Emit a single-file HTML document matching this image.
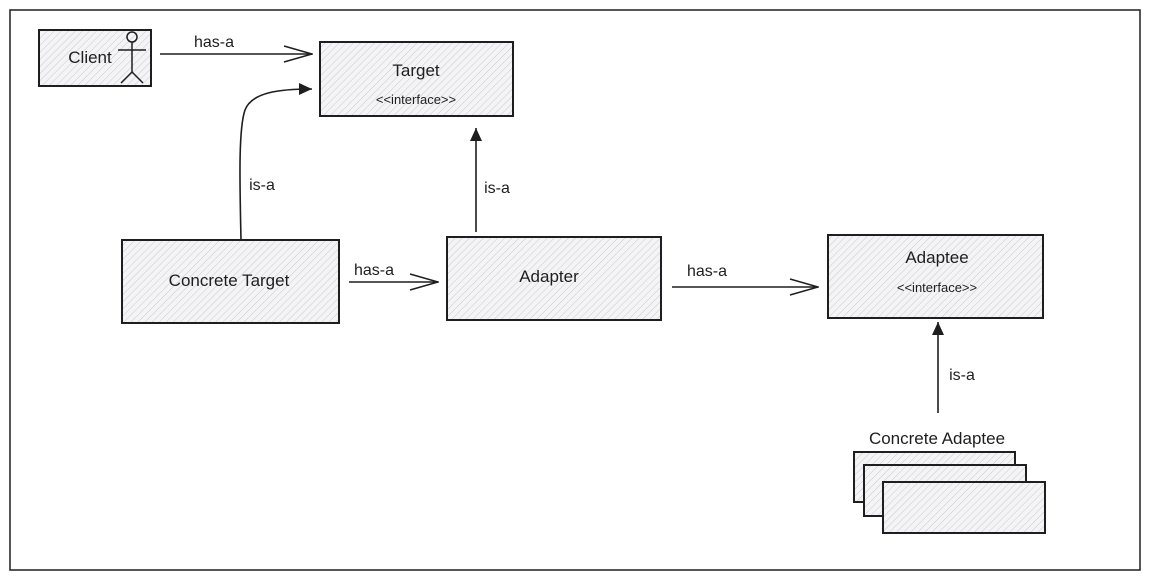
<!DOCTYPE html>
<html><head><meta charset="utf-8"><style>
html,body{margin:0;padding:0;background:#fff;}
svg{display:block;}
text{font-family:"Liberation Sans",sans-serif;fill:#1e1e1e;}
</style></head><body>
<svg width="1150" height="579" viewBox="0 0 1150 579" xmlns="http://www.w3.org/2000/svg">
<defs>
<pattern id="h" width="5" height="5" patternUnits="userSpaceOnUse" patternTransform="rotate(45)">
<rect width="5" height="5" fill="#f4f4f6"/>
<line x1="0" y1="0" x2="0" y2="5" stroke="#c8cace" stroke-width="1"/>
</pattern>
<marker id="open" markerWidth="30" markerHeight="18" refX="29" refY="9" orient="auto" markerUnits="userSpaceOnUse">
<path d="M1,1 L29,9 L1,17" fill="none" stroke="#1e1e1e" stroke-width="1.5"/>
</marker>
<marker id="fill" markerWidth="14" markerHeight="14" refX="13" refY="7" orient="auto" markerUnits="userSpaceOnUse">
<path d="M0,1 L13,7 L0,13 Z" fill="#1e1e1e"/>
</marker>
</defs>
<rect x="10" y="10" width="1130" height="560" fill="#fff" stroke="#1e1e1e" stroke-width="1.5"/>
<g stroke="#1e1e1e" stroke-width="2" fill="url(#h)">
<rect x="39" y="30" width="112" height="56"/>
<rect x="320" y="42" width="193" height="74"/>
<rect x="122" y="240" width="217" height="83"/>
<rect x="447" y="237" width="214" height="83"/>
<rect x="828" y="235" width="215" height="83"/>
<rect x="854" y="452" width="161" height="50"/>
<rect x="864" y="465" width="162" height="51"/>
<rect x="883" y="482" width="162" height="51"/>
</g>
<g stroke="#1e1e1e" stroke-width="1.5" fill="none">
<circle cx="132" cy="37" r="5"/>
<line x1="132" y1="42" x2="132" y2="72"/>
<line x1="118" y1="50" x2="146" y2="50"/>
<line x1="132" y1="72" x2="121" y2="83"/>
<line x1="132" y1="72" x2="143" y2="83"/>
</g>
<g stroke="#1e1e1e" stroke-width="1.6" fill="none">
<line x1="160" y1="54" x2="312" y2="54" marker-end="url(#open)"/>
<path d="M241,240 C240,190 238,130 245,110 C252,92 280,89 312,89" marker-end="url(#fill)"/>
<line x1="349" y1="282" x2="438" y2="282" marker-end="url(#open)"/>
<line x1="476" y1="232" x2="476" y2="128" marker-end="url(#fill)"/>
<line x1="672" y1="287" x2="818" y2="287" marker-end="url(#open)"/>
<line x1="938" y1="413" x2="938" y2="322" marker-end="url(#fill)"/>
</g>
<g font-size="16" text-anchor="middle">
<text x="90" y="63" font-size="17">Client</text>
<text x="214" y="47">has-a</text>
<text x="416" y="76" font-size="17">Target</text>
<text x="416" y="104" font-size="13">&lt;&lt;interface&gt;&gt;</text>
<text x="262" y="190">is-a</text>
<text x="229" y="286" font-size="17">Concrete Target</text>
<text x="374" y="275">has-a</text>
<text x="549" y="282" font-size="17">Adapter</text>
<text x="497" y="193">is-a</text>
<text x="707" y="276">has-a</text>
<text x="937" y="263" font-size="17">Adaptee</text>
<text x="937" y="292" font-size="13">&lt;&lt;interface&gt;&gt;</text>
<text x="962" y="380">is-a</text>
<text x="937" y="444" font-size="17">Concrete Adaptee</text>
</g>
</svg>
</body></html>
